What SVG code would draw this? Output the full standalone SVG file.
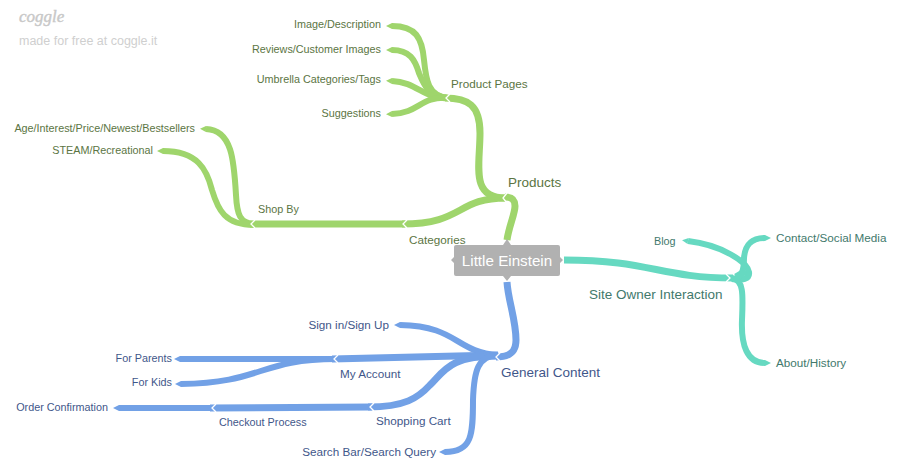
<svg xmlns="http://www.w3.org/2000/svg" width="907" height="476" viewBox="0 0 907 476">
<style>
text{font-family:"Liberation Sans",Arial,sans-serif;font-size:10.8px}
.l{font-size:11.7px}
.m{font-size:13.5px}
.e{text-anchor:end}
.gt{fill:#5b7543}.tt{fill:#42796c}.bt{fill:#3f578a}
path.c{fill:none;stroke-linecap:butt;stroke-linejoin:round}
.g{stroke:#9fd56c}.t{stroke:#66d9c1}.b{stroke:#72a1e6}
.w5{stroke-width:6}.w6{stroke-width:7}
.mg{marker-end:url(#tg)}.mt{marker-end:url(#tt)}.mb{marker-end:url(#tb)}
.v{fill:none;stroke:#fff;stroke-width:1.3}
</style>
<defs>
<marker id="tg" markerUnits="strokeWidth" markerWidth="1" markerHeight="1" refX="0" refY="0.5" viewBox="0 0 1 1" orient="auto"><path d="M0 0L1 .5L0 1z" fill="#9fd56c"/></marker>
<marker id="tt" markerUnits="strokeWidth" markerWidth="1" markerHeight="1" refX="0" refY="0.5" viewBox="0 0 1 1" orient="auto"><path d="M0 0L1 .5L0 1z" fill="#66d9c1"/></marker>
<marker id="tb" markerUnits="strokeWidth" markerWidth="1" markerHeight="1" refX="0" refY="0.5" viewBox="0 0 1 1" orient="auto"><path d="M0 0L1 .5L0 1z" fill="#72a1e6"/></marker>
</defs>
<g id="watermark">
<text x="19" y="22" style="font-family:'Liberation Serif',serif;font-size:17px;font-style:italic;stroke:#c8c8c8;stroke-width:.4" fill="#c8c8c8">coggle</text>
<text x="19" y="45" style="font-size:12.5px" fill="#cfcfcf">made for free at coggle.it</text>
</g>
<g id="connectors">
<path class="c g w6" d="M507 240C509 226 515 214 515 206C515 200 512 197 505 197"/>
<path class="c g w6" d="M506 198C456 198 464 224 402 224"/>
<path class="c g w6" d="M505 198C470 198 480 165 480 133C480 105 468 98 445 98"/>
<path class="c g w6" d="M405 224L250 224"/>
<path class="c g w5 mg" d="M254 224C240 223 237 215 236 195C234 160 232 130 206 129"/>
<path class="c g w5 mg" d="M254 225C225 225 218 210 212 190C207 170 198 151 163 151"/>
<path class="c g w5 mg" d="M448 98C428 96 426 80 424 60C422 38 416 26 392 26"/>
<path class="c g w5 mg" d="M448 98C428 96 424 85 419 73C415 60 410 50 392 50"/>
<path class="c g w5 mg" d="M448 98C425 100 417 82 392 81"/>
<path class="c g w5 mg" d="M448 98C420 96 420 113 392 114"/>
<path class="c t w6" d="M564 260C650 260 660 278 733 278"/>
<path class="c t w5 mt" d="M732 279C742 281 750 279 749 272C747 262 722 245 688 241"/>
<path class="c t w5 mt" d="M732 279C742 279 744 270 744 258C745 246 750 238 765 238"/>
<path class="c t w5 mt" d="M732 278C744 280 743 295 742 320C741 345 747 363 765 363"/>
<path class="c t w6" d="M736 277L746 271"/>
<path class="c b w6" d="M507 282C508 300 516 320 516 340C516 352 510 357 496 357"/>
<path class="c b w5 mb" d="M498 355C455 352 458 326 400 325"/>
<path class="c b w6" d="M498 355L332 359"/>
<path class="c b w5 mb" d="M336 359L180 359"/>
<path class="c b w5 mb" d="M336 359C260 359 262 383 181 384"/>
<path class="c b w6" d="M498 356C450 356 445 370 430 385C418 398 405 407 368 407"/>
<path class="c b w5 mb" d="M498 355C478 356 474 370 473 400C473 435 472 452 445 452"/>
<path class="c b w6" d="M372 407L210 408"/>
<path class="c b w5 mb" d="M214 408L119 408"/>
<g id="junctions">
<path class="v" d="M450 94L446 98L450 102"/>
<path class="v" d="M507 193L503 198L507 203"/>
<path class="v" d="M407 220L403 224L407 228"/>
<path class="v" d="M255 220L251 224L255 228"/>
<path class="v" d="M726 274L730 278L726 282"/>
<path class="v" d="M500 353L496 357L500 361"/>
<path class="v" d="M338 355L334 359L338 363"/>
<path class="v" d="M374 403L370 407L374 411"/>
<path class="v" d="M216 404L212 408L216 412"/>
</g>
</g>
<g id="node-root">
<path d="M456 245H558Q560 245 560 247V257L563 260L560 263V274Q560 276 558 276H511L507 281L503 276H456Q454 276 454 274V263L451 260L454 257V247Q454 245 456 245Z" fill="#b1b1b1"/>
<path d="M503 245L507 239L511 245Z" fill="#b1b1b1"/>
<text x="507" y="266" text-anchor="middle" style="font-size:15.2px" fill="#fff">Little Einstein</text>
</g>
<g id="node-products"><text x="508" y="187" class="m gt">Products</text></g>
<g id="node-product-pages"><text x="451" y="88" class="l gt">Product Pages</text></g>
<g id="node-image"><text x="381" y="28" class="e gt">Image/Description</text></g>
<g id="node-reviews"><text x="381" y="53" class="e gt">Reviews/Customer Images</text></g>
<g id="node-umbrella"><text x="381" y="83" class="e gt">Umbrella Categories/Tags</text></g>
<g id="node-suggestions"><text x="381" y="117" class="e gt">Suggestions</text></g>
<g id="node-age"><text x="195" y="132" class="e gt">Age/Interest/Price/Newest/Bestsellers</text></g>
<g id="node-steam"><text x="153" y="154" class="e gt">STEAM/Recreational</text></g>
<g id="node-shop-by"><text x="258" y="213" class="gt">Shop By</text></g>
<g id="node-categories"><text x="409" y="244" class="l gt">Categories</text></g>
<g id="node-site-owner"><text x="589" y="299" class="m tt">Site Owner Interaction</text></g>
<g id="node-blog"><text x="654" y="245" class="tt">Blog</text></g>
<g id="node-contact"><text x="776" y="242" class="l tt">Contact/Social Media</text></g>
<g id="node-about"><text x="776" y="367" class="l tt">About/History</text></g>
<g id="node-general"><text x="501" y="377" class="m bt">General Content</text></g>
<g id="node-signin"><text x="389" y="329" class="e l bt">Sign in/Sign Up</text></g>
<g id="node-account"><text x="340" y="378" class="l bt">My Account</text></g>
<g id="node-parents"><text x="172" y="362" class="e bt">For Parents</text></g>
<g id="node-kids"><text x="172" y="386" class="e bt">For Kids</text></g>
<g id="node-order"><text x="108" y="411" class="e bt">Order Confirmation</text></g>
<g id="node-checkout"><text x="219" y="426" class="bt">Checkout Process</text></g>
<g id="node-cart"><text x="376" y="425" class="l bt">Shopping Cart</text></g>
<g id="node-search"><text x="436" y="456" class="e l bt">Search Bar/Search Query</text></g>
</svg>
